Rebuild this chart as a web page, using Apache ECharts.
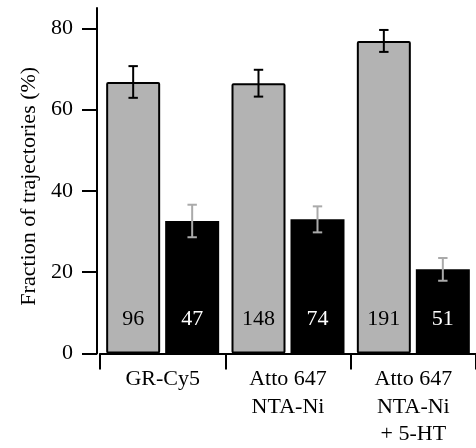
<!DOCTYPE html>
<html>
<head>
<meta charset="utf-8">
<script src="https://cdn.jsdelivr.net/npm/echarts@6/dist/echarts.min.js"></script>
<style>html,body{margin:0;padding:0;background:#fff}#c{width:476px;height:448px}</style>
</head>
<body>
<div id="c"></div>
<script>
const categories = ['GR-Cy5', 'Atto 647\nNTA-Ni', 'Atto 647\nNTA-Ni\n+ 5-HT'];
const grayValues = [66.8, 66.5, 76.9];
const grayErrors = [3.9, 3.3, 2.7];
const blackValues = [32.6, 33.0, 20.7];
const blackErrors = [4.0, 3.2, 2.8];
const grayCounts = [96, 148, 191];
const blackCounts = [47, 74, 51];
const yTicks = [0, 20, 40, 60, 80];

const FONT = 'Liberation Serif';
const FS = 22;
const BAR_W = 54, GAP = 5;
const OFF = (BAR_W + GAP) / 2;

function errSeries(values, errors, side, color) {
  return {
    type: 'custom',
    z: 10,
    silent: true,
    data: values.map((v, i) => [i, v, errors[i]]),
    renderItem: function (params, api) {
      const i = api.value(0), v = api.value(1), e = api.value(2);
      const top = api.coord([i, v + e]);
      const bot = api.coord([i, v - e]);
      const x = top[0] + side * OFF;
      const cap = 4.7;
      const st = { stroke: color, lineWidth: 2 };
      return {
        type: 'group',
        children: [
          { type: 'line', shape: { x1: x, y1: top[1], x2: x, y2: bot[1] }, style: st },
          { type: 'line', shape: { x1: x - cap, y1: top[1], x2: x + cap, y2: top[1] }, style: st },
          { type: 'line', shape: { x1: x - cap, y1: bot[1], x2: x + cap, y2: bot[1] }, style: st }
        ]
      };
    }
  };
}

const chart = echarts.init(document.getElementById('c'), null, { renderer: 'canvas' });
chart.setOption({
  animation: false,
  backgroundColor: '#fff',
  grid: { left: 100, top: 8, bottom: 92, width: 384, containLabel: false },
  xAxis: {
    type: 'category',
    data: categories,
    offset: 3,
    axisLine: { lineStyle: { color: '#000', width: 2 } },
    axisTick: { show: true, length: 16, lineStyle: { color: '#000', width: 2 } },
    axisLabel: { color: '#000', fontFamily: FONT, fontSize: FS, lineHeight: 27.5, margin: 9, interval: 0 },
    splitLine: { show: false }
  },
  yAxis: {
    type: 'value',
    min: 0, max: 85, interval: 20,
    offset: 3,
    name: 'Fraction of trajectories (%)',
    nameLocation: 'middle',
    nameGap: 48,
    nameTextStyle: { color: '#000', fontFamily: FONT, fontSize: FS, padding: [0, 11, 0, 0] },
    axisLine: { show: true, lineStyle: { color: '#000', width: 2 } },
    axisTick: { show: true, length: 15, customValues: yTicks, lineStyle: { color: '#000', width: 2 } },
    axisLabel: { color: '#000', fontFamily: FONT, fontSize: FS, margin: 24, customValues: yTicks },
    splitLine: { show: false }
  },
  series: [
    {
      type: 'bar',
      data: grayValues,
      barWidth: BAR_W,
      barGap: (GAP / BAR_W * 100) + '%',
      itemStyle: { color: '#b3b3b3', borderColor: '#000', borderWidth: 2, borderRadius: 1 },
      label: {
        show: true, position: 'insideBottom', distance: 23,
        formatter: p => String(grayCounts[p.dataIndex]),
        color: '#000', fontFamily: FONT, fontSize: FS
      }
    },
    {
      type: 'bar',
      data: blackValues,
      barWidth: BAR_W,
      itemStyle: { color: '#000' },
      label: {
        show: true, position: 'insideBottom', distance: 23,
        formatter: p => String(blackCounts[p.dataIndex]),
        color: '#fff', fontFamily: FONT, fontSize: FS
      }
    },
    errSeries(grayValues, grayErrors, -1, '#000'),
    errSeries(blackValues, blackErrors, 1, '#aaaaaa')
  ]
});
</script>
</body>
</html>
